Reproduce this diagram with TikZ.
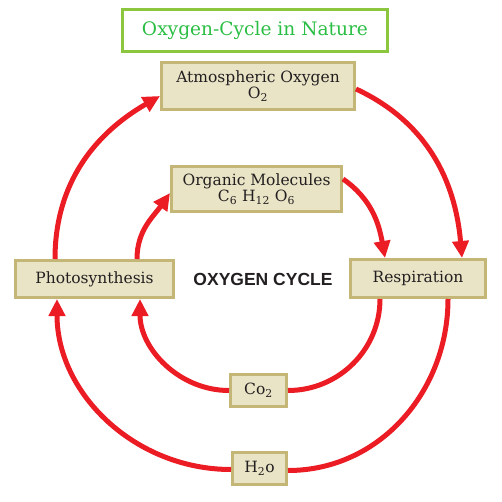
\documentclass[tikz,border=0pt]{standalone}
\usepackage{fontspec}
\setmainfont{DejaVu Serif}
\newfontfamily\arialbold{Liberation Sans}
\usetikzlibrary{arrows.meta}
\definecolor{cycred}{HTML}{EC1C24}
\definecolor{boxfill}{HTML}{E9E4C6}
\definecolor{boxline}{HTML}{C3B677}
\definecolor{titleline}{HTML}{8CC63F}
\definecolor{titletext}{HTML}{2BBE44}
\definecolor{inktext}{HTML}{231F20}
\tikzset{
  cbox/.style={draw=boxline, fill=boxfill, line width=3pt, inner sep=1pt, align=center,
     font=\fontsize{15.5}{15.5}\selectfont, text=inktext},
  flow/.style={draw=cycred, line width=5pt},
  flowarr/.style={flow, -{Triangle[length=17pt,width=16pt]}},
}
\begin{document}
\begin{tikzpicture}[x=1pt,y=1pt]
\useasboundingbox (0,0) rectangle (502,501);
\node[draw=titleline, line width=3pt, minimum width=265pt, minimum height=42pt, text=titletext,
      font=\fontsize{18.6}{20}\selectfont] (title) at (255,470.5) {Oxygen-Cycle in Nature};
\node[cbox, minimum width=193pt, minimum height=47pt] (atm) at (258,415) {Atmospheric Oxygen\\O\textsubscript{2}};
\node[cbox, minimum width=170pt, minimum height=45pt] (org) at (256.5,312) {Organic Molecules\\C\textsubscript{6} H\textsubscript{12} O\textsubscript{6}};
\node[cbox, minimum width=158pt, minimum height=37pt] (photo) at (94.5,222) {Photosynthesis};
\node[cbox, minimum width=135pt, minimum height=38pt] (resp) at (418,222.5) {Respiration};
\node[cbox, minimum width=56pt, minimum height=32pt] (co2) at (258.5,110.5) {Co\textsubscript{2}};
\node[cbox, minimum width=54pt, minimum height=32pt] (h2o) at (259.5,32.5) {H\textsubscript{2}o};
\node[font=\arialbold\bfseries\fontsize{17.5}{19}\selectfont, text=inktext] (label) at (263,222) {OXYGEN CYCLE};
% outer loop
\draw[flowarr] ([xshift=-39.5pt]photo.north) to[out=90,in=210] ([yshift=-10pt]atm.west);
\draw[flowarr] ([yshift=-3pt]atm.east) to[out=-25,in=95] ([xshift=44pt]resp.north);
\draw[flow] ([xshift=30pt]resp.south) to[out=-90,in=0] ([yshift=-2pt]h2o.east);
\draw[flowarr] ([yshift=-1pt]h2o.west) to[out=180,in=-90] ([xshift=-37.5pt]photo.south);
% inner loop
\draw[flowarr] ([xshift=42.5pt]photo.north) to[out=90,in=235] ([yshift=-4pt]org.west);
\draw[flowarr] ([yshift=10pt]org.east) to[out=-35,in=100] ([xshift=-33pt]resp.north);
\draw[flow] ([xshift=-38pt]resp.south) to[out=-90,in=0] (co2.east);
\draw[flowarr] (co2.west) to[out=180,in=-90] ([xshift=45.5pt]photo.south);
\end{tikzpicture}
\end{document}
